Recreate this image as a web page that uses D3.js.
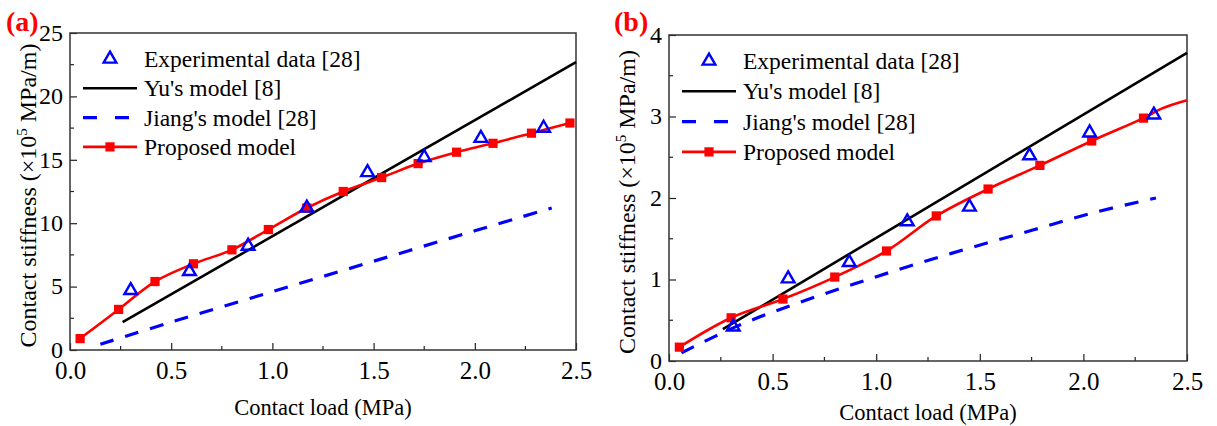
<!DOCTYPE html>
<html lang="en">
<head>
    <meta charset="UTF-8">
    <title>Contact stiffness vs contact load</title>
    <style>
        body {
            margin: 0;
            padding: 0;
            background-color: #fff;
        }
        svg text {
            font-family: "Liberation Serif", "Times New Roman", serif;
            fill: #000;
        }
    </style>
    <script src="https://d3js.org/d3.v7.min.js"></script>
</head>
<body>
    <svg id="chart" width="1217" height="426"></svg>

    <script>
        // ---- data ----
        // panel (a)
        const expA_x = [0.30, 0.59, 0.88, 1.17, 1.47, 1.75, 2.03, 2.34];
        const expA_y = [4.7, 6.2, 8.2, 11.2, 14.0, 15.2, 16.7, 17.5];
        const yuA_x = [0.26, 2.5];
        const yuA_y = [2.2, 22.7];
        const jiangA_x = [0.15, 0.5, 1.0, 1.5, 2.0, 2.38];
        const jiangA_y = [0.45, 2.2, 4.6, 7.0, 9.4, 11.2];
        const propA_x = [0.05, 0.24, 0.42, 0.61, 0.80, 0.98, 1.17, 1.35, 1.54, 1.72, 1.91, 2.09, 2.28, 2.47];
        const propA_y = [0.9, 3.2, 5.4, 6.8, 7.9, 9.5, 11.2, 12.5, 13.6, 14.7, 15.6, 16.3, 17.1, 17.9];
        const propA_marks = 14;

        // panel (b)
        const expB_x = [0.31, 0.575, 0.87, 1.15, 1.45, 1.74, 2.03, 2.34];
        const expB_y = [0.42, 1.01, 1.21, 1.71, 1.89, 2.52, 2.80, 3.02];
        const yuB_x = [0.26, 2.5];
        const yuB_y = [0.39, 3.78];
        const jiangB_x = [0.06, 0.34, 0.62, 0.90, 1.18, 1.47, 1.76, 2.05, 2.35];
        const jiangB_y = [0.10, 0.44, 0.71, 0.95, 1.18, 1.40, 1.61, 1.82, 2.00];
        const propB_x = [0.05, 0.30, 0.55, 0.80, 1.05, 1.29, 1.54, 1.79, 2.04, 2.29, 2.38, 2.5];
        const propB_y = [0.17, 0.53, 0.76, 1.03, 1.35, 1.78, 2.11, 2.40, 2.70, 2.98, 3.10, 3.20];
        const propB_marks = 10; // the last points are line only

        const xTicks = [0, 0.5, 1.0, 1.5, 2.0, 2.5];
        const yTicksA = [0, 5, 10, 15, 20, 25];
        const yTicksB = [0, 1, 2, 3, 4];

        const legendLabels = ["Experimental data [28]", "Yu's model [8]", "Jiang's model [28]", "Proposed model"];

        const zip = (xs, ys) => xs.map((x, i) => [x, ys[i]]);

        const svg = d3.select("#chart");
        svg.append("rect").attr("width", 1217).attr("height", 426).attr("fill", "#fff");

        const RED = "#ff0000", BLUE = "#0000ff";
        const triSym = d3.symbol().type(d3.symbolTriangle).size(70);
        const sqSym = d3.symbol().type(d3.symbolSquare).size(85);

        function panel(cfg) {
            const { left, top, right, bottom } = cfg;
            const g = svg.append("g");

            const x = d3.scaleLinear().domain([0, 2.5]).range([left, right]);
            const y = d3.scaleLinear().domain([0, cfg.ymax]).range([bottom, top]);

            // ticks (inward), major + minor
            const xMinor = d3.range(0.25, 2.5, 0.5);
            const yMinor = cfg.yTicks.slice(0, -1).map(v => v + cfg.yStep / 2);

            const xAxisB = d3.axisBottom(x).tickValues(xTicks).tickFormat(d3.format(".1f"))
                .tickSizeInner(-7).tickSizeOuter(0).tickPadding(14);
            const ax = g.append("g").attr("transform", `translate(0,${bottom})`).call(xAxisB);
            ax.select(".domain").remove();
            ax.selectAll("line").attr("stroke", "#222").attr("stroke-width", 1.2);
            ax.selectAll("text").attr("font-size", 25).attr("dy", "0.58em");

            g.append("g").selectAll("line").data(xMinor).join("line")
                .attr("x1", d => x(d)).attr("x2", d => x(d))
                .attr("y1", bottom).attr("y2", bottom - 4)
                .attr("stroke", "#222").attr("stroke-width", 1.2);

            const yAxisL = d3.axisLeft(y).tickValues(cfg.yTicks).tickFormat(d3.format("d"))
                .tickSizeInner(-7).tickSizeOuter(0).tickPadding(7);
            const ay = g.append("g").attr("transform", `translate(${left},0)`).call(yAxisL);
            ay.select(".domain").remove();
            ay.selectAll("line").attr("stroke", "#222").attr("stroke-width", 1.2);
            ay.selectAll("text").attr("font-size", 24).attr("dy", "0.3em");

            g.append("g").selectAll("line").data(yMinor).join("line")
                .attr("x1", left).attr("x2", left + 4)
                .attr("y1", d => y(d)).attr("y2", d => y(d))
                .attr("stroke", "#222").attr("stroke-width", 1.2);

            // frame
            g.append("rect")
                .attr("x", left).attr("y", top)
                .attr("width", right - left).attr("height", bottom - top)
                .attr("fill", "none").attr("stroke", "#333").attr("stroke-width", 1.5);

            const line = d3.line().x(d => x(d[0])).y(d => y(d[1]));
            const smooth = d3.line().x(d => x(d[0])).y(d => y(d[1])).curve(d3.curveCatmullRom.alpha(0.5));

            // Jiang
            g.append("path").datum(zip(cfg.jiang[0], cfg.jiang[1]))
                .attr("d", smooth).attr("fill", "none")
                .attr("stroke", BLUE).attr("stroke-width", 3.2)
                .attr("stroke-dasharray", "14,12");

            // Yu
            g.append("path").datum(zip(cfg.yu[0], cfg.yu[1]))
                .attr("d", line).attr("fill", "none")
                .attr("stroke", "#000").attr("stroke-width", 2.6);

            // Proposed
            const prop = zip(cfg.prop[0], cfg.prop[1]);
            g.append("path").datum(prop)
                .attr("d", smooth).attr("fill", "none")
                .attr("stroke", RED).attr("stroke-width", 2.6);
            g.append("g").selectAll("path").data(prop.slice(0, cfg.propMarks)).join("path")
                .attr("d", sqSym)
                .attr("transform", d => `translate(${x(d[0])},${y(d[1])})`)
                .attr("fill", RED);

            // Experimental
            g.append("g").selectAll("path").data(zip(cfg.exp[0], cfg.exp[1])).join("path")
                .attr("d", triSym)
                .attr("transform", d => `translate(${x(d[0])},${y(d[1])})`)
                .attr("fill", "none").attr("stroke", BLUE).attr("stroke-width", 2.4);

            // legend
            const lx = left + 13, lw = 54, tx = left + 74;
            const rows = legendLabels.map((t, i) => ({ t, y: top + 26 + i * cfg.legendGap }));
            const lg = g.append("g");
            lg.append("path").attr("d", triSym)
                .attr("transform", `translate(${lx + lw / 2},${rows[0].y})`)
                .attr("fill", "none").attr("stroke", BLUE).attr("stroke-width", 2.4);
            lg.append("line").attr("x1", lx).attr("x2", lx + lw)
                .attr("y1", rows[1].y).attr("y2", rows[1].y)
                .attr("stroke", "#000").attr("stroke-width", 2.6);
            lg.append("line").attr("x1", lx).attr("x2", lx + lw)
                .attr("y1", rows[2].y).attr("y2", rows[2].y)
                .attr("stroke", BLUE).attr("stroke-width", 3.2).attr("stroke-dasharray", "14,18");
            lg.append("line").attr("x1", lx).attr("x2", lx + lw)
                .attr("y1", rows[3].y).attr("y2", rows[3].y)
                .attr("stroke", RED).attr("stroke-width", 2.6);
            lg.append("path").attr("d", sqSym)
                .attr("transform", `translate(${lx + lw / 2},${rows[3].y})`)
                .attr("fill", RED);
            lg.selectAll("text").data(rows).join("text")
                .attr("x", tx).attr("y", d => d.y + 8)
                .attr("font-size", 23.5)
                .text(d => d.t);

            // axis titles
            g.append("text")
                .attr("x", (left + right) / 2).attr("y", bottom + cfg.xTitleOff)
                .attr("text-anchor", "middle").attr("font-size", 22.5)
                .text("Contact load (MPa)");

            const yt = g.append("text")
                .attr("transform", `translate(${left - 34},${(top + bottom) / 2 + 4}) rotate(-90)`)
                .attr("text-anchor", "middle").attr("font-size", 24);
            yt.append("tspan").text("Contact stiffness (\u00d710");
            yt.append("tspan").attr("font-size", 15).attr("dy", -9).text("5");
            yt.append("tspan").attr("dy", 9).text(" MPa/m)");

            // panel label
            g.append("text")
                .attr("x", cfg.labelX).attr("y", 31)
                .attr("font-size", 28).attr("font-weight", "bold")
                .style("fill", RED)
                .text(cfg.label);
        }

        panel({
            left: 70, top: 33, right: 576, bottom: 350,
            ymax: 25, yTicks: yTicksA, yStep: 5,
            exp: [expA_x, expA_y], yu: [yuA_x, yuA_y], jiang: [jiangA_x, jiangA_y],
            prop: [propA_x, propA_y], propMarks: propA_marks,
            legendGap: 29.3, xTitleOff: 65, label: "(a)", labelX: 6
        });

        panel({
            left: 669, top: 35, right: 1187, bottom: 361,
            ymax: 4, yTicks: yTicksB, yStep: 1,
            exp: [expB_x, expB_y], yu: [yuB_x, yuB_y], jiang: [jiangB_x, jiangB_y],
            prop: [propB_x, propB_y], propMarks: propB_marks,
            legendGap: 30.3, xTitleOff: 59, label: "(b)", labelX: 614
        });
    </script>
</body>
</html>
